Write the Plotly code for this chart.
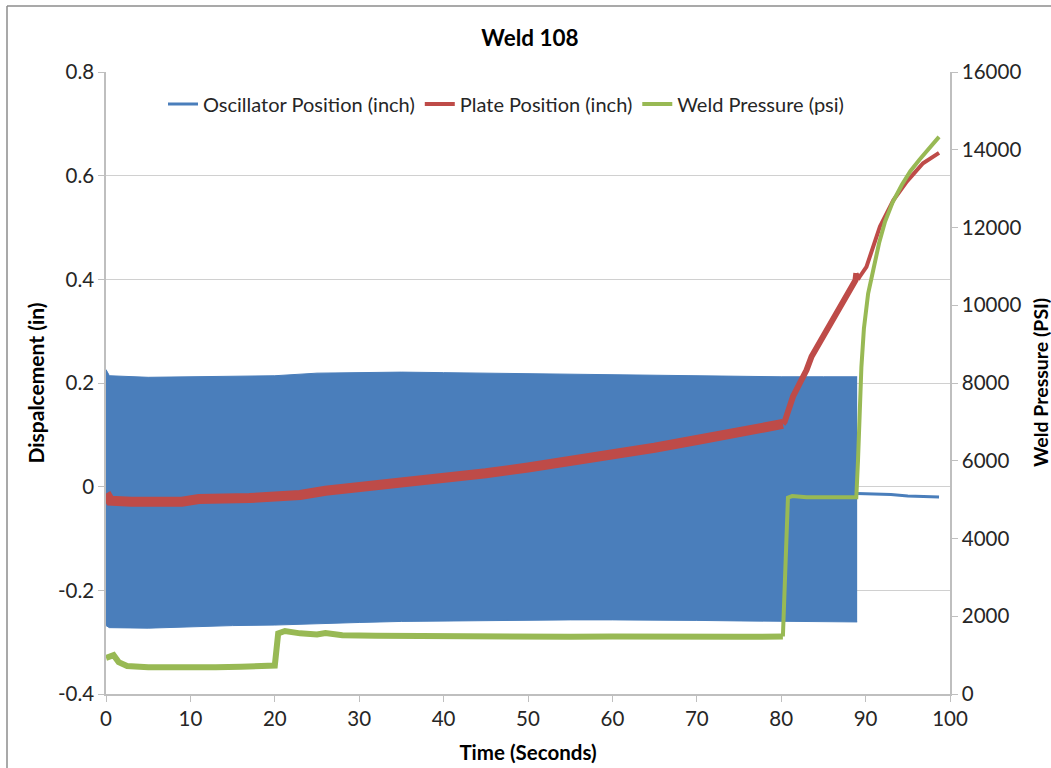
import plotly.graph_objects as go

# ---------------- data ----------------
# Oscillator position: dense oscillation drawn as its upper/lower envelope (inch)
osc_env_time = [0, 0.4, 5, 10, 15, 20, 25, 30, 35, 40, 45, 50, 55, 60, 65, 70, 75, 80, 85, 89.0]
osc_env_upper = [0.226, 0.214, 0.211, 0.212, 0.213, 0.214, 0.219, 0.220, 0.221, 0.220, 0.219,
                 0.218, 0.216, 0.215, 0.214, 0.213, 0.213, 0.212, 0.212, 0.212]
osc_env_lower = [-0.268, -0.272, -0.273, -0.270, -0.268, -0.267, -0.264, -0.262, -0.260, -0.259,
                 -0.258, -0.257, -0.257, -0.257, -0.257, -0.258, -0.259, -0.260, -0.261, -0.261]
# Oscillator position after oscillation stops (inch)
osc_tail_time = [89.0, 91, 93, 95, 97, 98.7]
osc_tail_value = [-0.013, -0.014, -0.015, -0.018, -0.019, -0.020]

# Plate position (inch)
plate_time = [0, 0.5, 3, 6, 9, 11, 14, 17, 20, 23, 26, 29, 32.5, 36, 40, 45, 50, 56, 60, 65, 70,
              75, 78, 80.2]
plate_value = [-0.013, -0.027, -0.029, -0.030, -0.029, -0.024, -0.025, -0.022, -0.019, -0.016,
               -0.008, -0.003, 0.004, 0.010, 0.017, 0.026, 0.037, 0.051, 0.061, 0.075, 0.090,
               0.106, 0.116, 0.121]
plate_time_b = [80.2, 80.4, 81.4, 83, 83.6, 85, 87, 88.8, 88.9]
plate_value_b = [0.121, 0.125, 0.174, 0.225, 0.251, 0.290, 0.347, 0.398, 0.412]
plate_time_c = [88.9, 89.1, 89.3, 90.1, 91.7, 93.3, 94.9, 96.8, 98.7]
plate_value_c = [0.412, 0.400, 0.405, 0.424, 0.502, 0.553, 0.589, 0.624, 0.644]

# Weld pressure (psi)
press_time = [0, 0.4, 0.9, 1.5, 2.5, 5, 8, 10, 13, 16, 19, 20.0, 20.4, 21.2, 23, 25, 26, 28, 32,
              36, 40, 45, 50, 55, 60, 65, 70, 75, 80.2]
press_value = [930, 960, 1000, 820, 720, 690, 680, 700, 690, 700, 710, 730, 1560, 1620, 1560,
               1530, 1570, 1510, 1500, 1490, 1480, 1490, 1480, 1470, 1480, 1470, 1470, 1470, 1480]
press_time_b = [80.2, 80.8, 81.3, 83, 85, 87, 88.9, 89.1, 89.3, 89.5, 89.8, 90.3, 90.9, 91.6,
                92.3, 93.2, 94.3, 95.3, 96.4, 97.6, 98.7]
press_value_b = [1480, 5050, 5090, 5060, 5060, 5050, 5060, 6000, 7200, 8400, 9400, 10300, 10900,
                 11600, 12150, 12650, 13100, 13450, 13750, 14050, 14330]

left_tickvals = [-0.4, -0.2, 0, 0.2, 0.4, 0.6, 0.8]
left_ticktext = ["-0.4", "-0.2", "0", "0.2", "0.4", "0.6", "0.8"]
right_tickvals = [0, 2000, 4000, 6000, 8000, 10000, 12000, 14000, 16000]
right_ticktext = ["0", "2000", "4000", "6000", "8000", "10000", "12000", "14000", "16000"]
x_tickvals = [0, 10, 20, 30, 40, 50, 60, 70, 80, 90, 100]

BLUE = "#4a7ebb"
RED = "#be4b48"
GREEN = "#98b954"
FONT = "Lato, 'Open Sans', sans-serif"
TXT = "#262626"
AXC = "#bfbfbf"

# plot area at x 106-950, y 72-694 (body margin removed in the page)
W, H = 1051, 768
ML, MR, MT, MB = 106, 101, 72, 74
PW = W - ML - MR   # 844
PH = H - MT - MB   # 622

fig = go.Figure()

# Oscillator band
fig.add_trace(go.Scatter(x=osc_env_time, y=osc_env_upper, mode="lines",
                         line=dict(color=BLUE, width=1), showlegend=False, hoverinfo="skip"))
fig.add_trace(go.Scatter(x=osc_env_time, y=osc_env_lower, mode="lines", fill="tonexty",
                         fillcolor=BLUE, line=dict(color=BLUE, width=1), showlegend=False,
                         hoverinfo="skip"))
fig.add_trace(go.Scatter(x=osc_tail_time, y=osc_tail_value, mode="lines",
                         line=dict(color=BLUE, width=3), name="Oscillator Position (inch)",
                         legendrank=1))

# Plate position
fig.add_trace(go.Scatter(x=plate_time, y=plate_value, mode="lines",
                         line=dict(color=RED, width=10), showlegend=False))
fig.add_trace(go.Scatter(x=plate_time_b, y=plate_value_b, mode="lines",
                         line=dict(color=RED, width=6), showlegend=False))
fig.add_trace(go.Scatter(x=plate_time_c, y=plate_value_c, mode="lines",
                         line=dict(color=RED, width=4), name="Plate Position (inch)",
                         legendrank=2))

# Weld pressure (right axis)
fig.add_trace(go.Scatter(x=press_time, y=press_value, mode="lines", yaxis="y2",
                         line=dict(color=GREEN, width=6), showlegend=False))
fig.add_trace(go.Scatter(x=press_time_b, y=press_value_b, mode="lines", yaxis="y2",
                         line=dict(color=GREEN, width=4), name="Weld Pressure (psi)",
                         legendrank=3))

fig.update_layout(
    width=W, height=H,
    margin=dict(l=ML, r=MR, t=MT, b=MB),
    paper_bgcolor="white", plot_bgcolor="white",
    font=dict(family=FONT, size=20, color=TXT),
    title=dict(text="<b>Weld 108</b>", x=530 / W, xanchor="center",
               y=1 - 38 / H, yanchor="middle", font=dict(size=22.5, color="#000000")),
    xaxis=dict(range=[0, 100], tickvals=x_tickvals, showgrid=False, zeroline=False,
               showline=True, linecolor=AXC, linewidth=1.5, ticks="outside", ticklen=6,
               tickcolor=AXC, tickfont=dict(size=20.5), automargin=False,
               title=dict(text="<b>Time (Seconds)</b>", font=dict(size=20.5, color="#000000"),
                          standoff=16)),
    yaxis=dict(range=[-0.4, 0.8], tickvals=left_tickvals, ticktext=left_ticktext,
               showgrid=True, gridcolor="#d0d0d0", gridwidth=1.2, zeroline=False,
               showline=True, linecolor=AXC, linewidth=1.5, ticks="outside", ticklen=6,
               tickcolor=AXC, tickfont=dict(size=20.5), automargin=False,
               title=dict(text="<b>Dispalcement (in)</b>", font=dict(size=21, color="#000000"),
                          standoff=8)),
    yaxis2=dict(range=[0, 16000], tickvals=right_tickvals, ticktext=right_ticktext,
                overlaying="y", side="right", showgrid=False, zeroline=False,
                showline=True, linecolor=AXC, linewidth=1.5, ticks="outside", ticklen=6,
                tickcolor=AXC, tickfont=dict(size=20.5), automargin=False),
    legend=dict(orientation="h", x=(506 - 106) / PW, xanchor="center", y=(694 - 104) / PH,
                yanchor="middle", bgcolor="rgba(0,0,0,0)", font=dict(size=20, color=TXT),
                traceorder="normal"),
    annotations=[
        dict(text="<b>Weld Pressure (PSI)</b>", xref="paper", yref="paper",
             x=(1040 - 106) / PW, y=0.5, xanchor="center", yanchor="middle",
             textangle=-90, showarrow=False, font=dict(size=19.5, color="#000000")),
    ],
    shapes=[
        dict(type="line", xref="paper", yref="paper", x0=(7 - 106) / PW, x1=(1060 - 106) / PW,
             y0=(694 - 6) / PH, y1=(694 - 6) / PH, line=dict(color="#8c8c8c", width=1.5)),
        dict(type="line", xref="paper", yref="paper", x0=(7 - 106) / PW, x1=(7 - 106) / PW,
             y0=(694 - 6) / PH, y1=(694 - 780) / PH, line=dict(color="#8c8c8c", width=1.5)),
    ],
)

fig.write_html(
    "out.html",
    config={"displayModeBar": False},
    post_script="document.body.style.margin='0';document.body.style.overflow='hidden';",
)
